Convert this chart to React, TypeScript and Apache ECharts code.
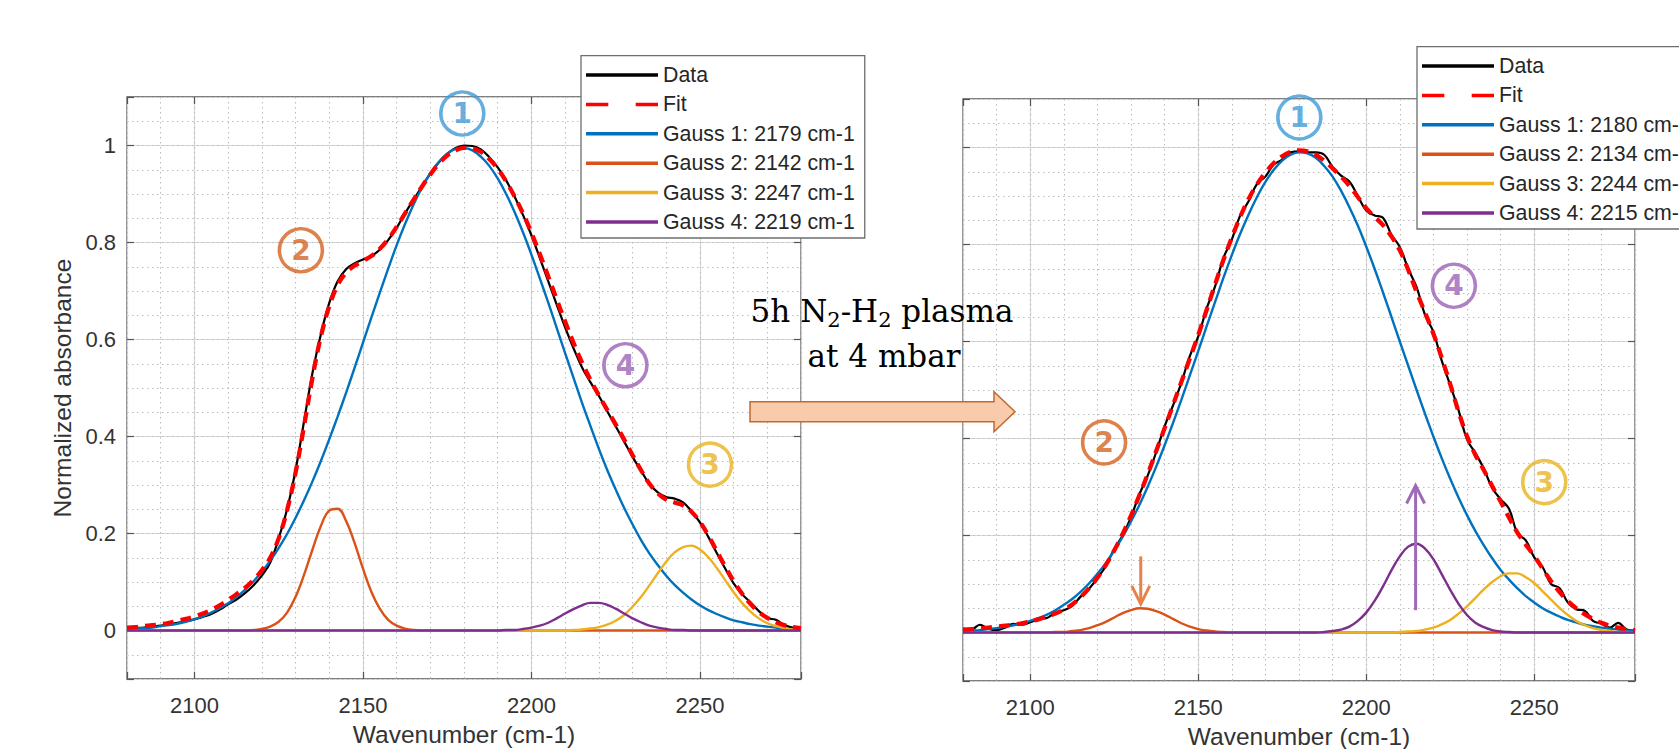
import React, { useEffect, useRef } from 'react';
import * as echarts from 'echarts';

// Wavenumber grid (cm-1)
const wn = [2080,2082.5,2085,2087.5,2090,2092.5,2095,2097.5,2100,2102.5,2105,2107.5,2110,2112.5,2115,2117.5,2120,2122.5,2125,2127.5,2130,2132.5,2135,2137.5,2140,2142.5,2145,2147.5,2150,2152.5,2155,2157.5,2160,2162.5,2165,2167.5,2170,2172.5,2175,2177.5,2180,2182.5,2185,2187.5,2190,2192.5,2195,2197.5,2200,2202.5,2205,2207.5,2210,2212.5,2215,2217.5,2220,2222.5,2225,2227.5,2230,2232.5,2235,2237.5,2240,2242.5,2245,2247.5,2250,2252.5,2255,2257.5,2260,2262.5,2265,2267.5,2270,2272.5,2275,2277.5,2280];

// ---- Left panel (before plasma) ----
const dataL = [0.004,0.005,0.006,0.008,0.010,0.013,0.016,0.019,0.023,0.028,
  0.034,0.043,0.054,0.064,0.077,0.093,0.113,0.140,0.19,0.25,
  0.33,0.43,0.53,0.61,0.675,0.72,0.745,0.757,0.765,0.772,
  0.785,0.805,0.83,0.86,0.888,0.915,0.942,0.965,0.983,0.995,
  1.0,0.999,0.992,0.976,0.955,0.928,0.895,0.857,0.815,0.768,
  0.72,0.672,0.625,0.582,0.543,0.512,0.484,0.452,0.421,0.39,
  0.358,0.33,0.302,0.285,0.275,0.272,0.264,0.246,0.223,0.193,
  0.16,0.128,0.097,0.075,0.058,0.04,0.026,0.022,0.012,0.006,
  0.004];
const fitL = [0.006,0.007,0.009,0.011,0.013,0.016,0.020,0.024,0.029,0.035,
  0.042,0.052,0.063,0.075,0.088,0.104,0.124,0.150,0.19,0.248,
  0.325,0.42,0.52,0.605,0.668,0.712,0.738,0.752,0.762,0.772,
  0.787,0.807,0.832,0.86,0.888,0.915,0.94,0.962,0.979,0.99,
  0.995,0.994,0.987,0.972,0.952,0.926,0.895,0.86,0.82,0.776,
  0.73,0.683,0.637,0.593,0.553,0.517,0.485,0.455,0.425,0.394,
  0.362,0.331,0.303,0.283,0.27,0.264,0.258,0.245,0.224,0.196,
  0.164,0.132,0.102,0.076,0.055,0.038,0.026,0.017,0.011,0.007,
  0.005];
const g1L = [0.003,0.004,0.005,0.006,0.009,0.011,0.014,0.018,0.023,0.029,
  0.037,0.046,0.056,0.069,0.084,0.101,0.121,0.144,0.170,0.199,
  0.232,0.268,0.307,0.349,0.394,0.441,0.490,0.541,0.593,0.645,
  0.696,0.746,0.794,0.838,0.878,0.913,0.943,0.966,0.983,0.993,
  0.995,0.990,0.977,0.958,0.932,0.900,0.863,0.821,0.775,0.726,
  0.676,0.624,0.572,0.521,0.470,0.422,0.375,0.331,0.291,0.253,
  0.219,0.187,0.159,0.135,0.113,0.094,0.078,0.064,0.052,0.042,
  0.034,0.027,0.021,0.017,0.013,0.010,0.008,0.006,0.004,0.003,
  0.002];
const g2L = [0,0,0,0,0,0,0,0,0,0,
  0,0,0,0,0,0.001,0.003,0.008,0.018,0.037,
  0.069,0.114,0.166,0.215,0.247,0.251,0.226,0.181,0.128,0.080,
  0.045,0.022,0.010,0.004,0.001,0,0,0,0,0,
  0,0,0,0,0,0,0,0,0,0,
  0,0,0,0,0,0,0,0,0,0,
  0,0,0,0,0,0,0,0,0,0,
  0,0,0,0,0,0,0,0,0,0,
  0];
const g3L = [0,0,0,0,0,0,0,0,0,0,
  0,0,0,0,0,0,0,0,0,0,
  0,0,0,0,0,0,0,0,0,0,
  0,0,0,0,0,0,0,0,0,0,
  0,0,0,0,0,0,0,0,0,0,
  0,0,0,0.001,0.002,0.004,0.007,0.012,0.020,0.032,
  0.049,0.069,0.093,0.118,0.142,0.161,0.172,0.175,0.167,0.151,
  0.129,0.104,0.079,0.057,0.039,0.025,0.015,0.009,0.005,0.002,
  0.001];
const g4L = [0,0,0,0,0,0,0,0,0,0,
  0,0,0,0,0,0,0,0,0,0,
  0,0,0,0,0,0,0,0,0,0,
  0,0,0,0,0,0,0,0,0,0,
  0,0,0,0,0,0.001,0.001,0.003,0.006,0.010,
  0.016,0.025,0.035,0.044,0.052,0.057,0.057,0.053,0.045,0.035,
  0.025,0.017,0.010,0.006,0.003,0.001,0.001,0,0,0,
  0,0,0,0,0,0,0,0,0,0,
  0];

// ---- Right panel (after 5h N2-H2 plasma) ----
const dataR = [0.008,0.006,0.016,0.008,0.005,0.01,0.018,0.016,0.021,0.028,
  0.03,0.041,0.046,0.055,0.074,0.09,0.112,0.137,0.172,0.2,
  0.238,0.285,0.324,0.372,0.425,0.468,0.515,0.57,0.61,0.668,
  0.713,0.772,0.81,0.86,0.889,0.925,0.94,0.965,0.975,0.99,
  0.992,0.99,0.99,0.985,0.96,0.942,0.93,0.9,0.87,0.86,
  0.855,0.82,0.795,0.75,0.712,0.655,0.62,0.56,0.51,0.458,
  0.398,0.37,0.338,0.298,0.275,0.255,0.205,0.19,0.155,0.135,
  0.1,0.092,0.062,0.048,0.045,0.024,0.018,0.01,0.02,0.006,
  0.004];
const fitR = [0.006,0.007,0.009,0.010,0.012,0.014,0.016,0.019,0.023,0.027,
  0.033,0.039,0.047,0.058,0.073,0.091,0.113,0.139,0.169,0.203,
  0.241,0.283,0.327,0.374,0.421,0.469,0.517,0.565,0.613,0.665,
  0.717,0.768,0.814,0.857,0.894,0.924,0.948,0.968,0.982,0.991,
  0.994,0.992,0.985,0.973,0.957,0.94,0.921,0.898,0.875,0.857,
  0.84,0.817,0.788,0.748,0.702,0.66,0.616,0.566,0.512,0.455,
  0.405,0.366,0.335,0.302,0.27,0.237,0.206,0.181,0.158,0.132,
  0.106,0.084,0.065,0.05,0.038,0.028,0.02,0.014,0.01,0.007,
  0.005];
const g1R = [0.003,0.004,0.005,0.007,0.009,0.012,0.015,0.019,0.024,0.030,
  0.037,0.046,0.057,0.069,0.084,0.101,0.121,0.143,0.169,0.197,
  0.229,0.263,0.301,0.342,0.386,0.432,0.480,0.530,0.580,0.631,
  0.681,0.731,0.778,0.822,0.862,0.898,0.929,0.954,0.973,0.985,
  0.990,0.988,0.979,0.962,0.940,0.911,0.877,0.839,0.796,0.750,
  0.701,0.651,0.600,0.550,0.500,0.451,0.404,0.359,0.317,0.278,
  0.242,0.209,0.180,0.153,0.129,0.109,0.091,0.075,0.062,0.050,
  0.041,0.033,0.026,0.021,0.016,0.013,0.010,0.008,0.006,0.004,
  0.003];
const g2R = [0,0,0,0,0,0,0,0,0,0,
  0,0.001,0.001,0.003,0.005,0.009,0.015,0.022,0.031,0.040,
  0.046,0.050,0.049,0.044,0.037,0.028,0.019,0.012,0.007,0.004,
  0.002,0.001,0,0,0,0,0,0,0,0,
  0,0,0,0,0,0,0,0,0,0,
  0,0,0,0,0,0,0,0,0,0,
  0,0,0,0,0,0,0,0,0,0,
  0,0,0,0,0,0,0,0,0,0,
  0];
const g3R = [0,0,0,0,0,0,0,0,0,0,
  0,0,0,0,0,0,0,0,0,0,
  0,0,0,0,0,0,0,0,0,0,
  0,0,0,0,0,0,0,0,0,0,
  0,0,0,0,0,0,0,0,0,0,
  0,0,0.001,0.002,0.003,0.006,0.010,0.017,0.026,0.039,
  0.054,0.071,0.089,0.104,0.116,0.122,0.122,0.114,0.102,0.085,
  0.068,0.051,0.036,0.024,0.015,0.009,0.005,0.003,0.001,0.001,
  0];
const g4R = [0,0,0,0,0,0,0,0,0,0,
  0,0,0,0,0,0,0,0,0,0,
  0,0,0,0,0,0,0,0,0,0,
  0,0,0,0,0,0,0,0,0,0,
  0,0,0,0.001,0.003,0.006,0.012,0.024,0.041,0.065,
  0.095,0.128,0.157,0.177,0.183,0.173,0.151,0.120,0.088,0.059,
  0.036,0.020,0.011,0.005,0.002,0.001,0,0,0,0,
  0,0,0,0,0,0,0,0,0,0,
  0];

const namesL = ['Data', 'Fit', 'Gauss 1: 2179 cm-1', 'Gauss 2: 2142 cm-1', 'Gauss 3: 2247 cm-1', 'Gauss 4: 2219 cm-1'];
const namesR = ['Data', 'Fit', 'Gauss 1: 2180 cm-1', 'Gauss 2: 2134 cm-1', 'Gauss 3: 2244 cm-1', 'Gauss 4: 2215 cm-1'];

// Circled peak labels (data coordinates)
const markLabels = ['1', '2', '4', '3'];
const markXL = [2179.5, 2131.6, 2227.9, 2253];
const markYL = [1.066, 0.784, 0.547, 0.342];
const markXR = [2180.1, 2122, 2226.1, 2253];
const markYR = [1.062, 0.392, 0.715, 0.31];

// Arrows on right panel: [wavenumber, tail, head]
const arrowRows = [[2132.9, 0.157, 0.059], [2214.7, 0.046, 0.303]];

const C_DATA = '#000000';
const C_FIT = '#FF0000';
const C_G1 = '#0072BD';
const C_G2 = '#D95319';
const C_G3 = '#EDB120';
const C_G4 = '#7E2F8E';
const markColors = ['#3F9AD8', '#D4631F', '#9B62B5', '#E8B422'];
const arrowColors = ['#E8804A', '#9E6AB8'];

const FONT = "'Liberation Sans', Arial, Helvetica, sans-serif";
const SERIF = '"DejaVu Serif", serif';
const AX = '#555555';
const TXT = '#333333';
const GRIDC = '#d8d8d8';
const MINORC = '#bdbdbd';

const pairs = (ys: number[]) => wn.map((x, i) => [x, ys[i]]);

const xLabelFmt = (v: number) => (Math.abs(v % 50) < 1e-6 ? String(v) : '');
const yLabelFmt = (v: number) => {
  const k = v * 5;
  if (Math.abs(k - Math.round(k)) > 1e-6) return '';
  return String(Math.round(v * 10) / 10);
};

function buildX(g: number) {
  return [
    {
      gridIndex: g, type: 'value', min: 2080, max: 2280, splitNumber: 4, position: 'bottom',
      axisLine: { show: false, onZero: false },
      axisTick: { show: true, inside: true, length: 7, lineStyle: { color: AX, width: 1.2 } },
      axisLabel: { show: true, formatter: xLabelFmt, fontSize: 22, color: TXT, margin: 15, fontFamily: FONT },
      splitLine: { show: true, lineStyle: { color: GRIDC, width: 1.2 } },
      name: 'Wavenumber (cm-1)', nameLocation: 'middle', nameGap: 43,
      nameTextStyle: { fontSize: 24.5, color: TXT, fontFamily: FONT },
    },
    {
      gridIndex: g, type: 'value', min: 2080, max: 2280, interval: 10, position: 'bottom',
      axisLine: { show: false, onZero: false }, axisTick: { show: false }, axisLabel: { show: false },
      splitLine: { show: true, lineStyle: { color: MINORC, width: 1.1, type: [1.5, 3.5] } },
    },
    {
      gridIndex: g, type: 'value', min: 2080, max: 2280, splitNumber: 4, position: 'top',
      axisLine: { show: false, onZero: false },
      axisTick: { show: true, inside: true, length: 7, lineStyle: { color: AX, width: 1.2 } },
      axisLabel: { show: false }, splitLine: { show: false },
    },
  ];
}

function buildY(g: number) {
  return [
    {
      gridIndex: g, type: 'value', min: -0.1, max: 1.1, splitNumber: 6, position: 'left',
      axisLine: { show: false, onZero: false },
      axisTick: { show: true, inside: true, length: 7, lineStyle: { color: AX, width: 1.2 } },
      axisLabel: { show: g === 0, formatter: yLabelFmt, fontSize: 22, color: TXT, margin: 11, fontFamily: FONT },
      splitLine: { show: true, lineStyle: { color: GRIDC, width: 1.2 } },
      name: g === 0 ? 'Normalized absorbance' : '', nameLocation: 'middle', nameGap: 52,
      nameTextStyle: { fontSize: 24.5, color: TXT, fontFamily: FONT },
    },
    {
      gridIndex: g, type: 'value', min: -0.1, max: 1.1, interval: 0.05, position: 'left',
      axisLine: { show: false, onZero: false }, axisTick: { show: false }, axisLabel: { show: false },
      splitLine: { show: true, lineStyle: { color: MINORC, width: 1.1, type: [1.5, 3.5] } },
    },
    {
      gridIndex: g, type: 'value', min: -0.1, max: 1.1, splitNumber: 6, position: 'right',
      axisLine: { show: false, onZero: false },
      axisTick: { show: true, inside: true, length: 7, lineStyle: { color: AX, width: 1.2 } },
      axisLabel: { show: false }, splitLine: { show: false },
    },
  ];
}

function line(name: string, ys: number[], g: number, color: string, width: number, dashed = false) {
  return {
    type: 'line', name, data: pairs(ys), xAxisIndex: g * 3, yAxisIndex: g * 3,
    symbol: 'none', showSymbol: false, smooth: 0.4, color, silent: true,
    lineStyle: { color, width, type: dashed ? [11, 7] : 'solid', cap: 'butt' },
    z: dashed ? 3 : 2,
  };
}

function marks(g: number, xs: number[], ys: number[]) {
  return {
    type: 'scatter', xAxisIndex: g * 3, yAxisIndex: g * 3, symbol: 'circle', symbolSize: 43, silent: true, z: 6,
    data: markLabels.map((lab, i) => ({
      name: lab, value: [xs[i], ys[i]],
      itemStyle: { color: 'rgba(255,255,255,0)', borderColor: markColors[i], borderWidth: 3.6 },
      label: { color: markColors[i] },
    })),
    label: { show: true, position: 'inside', formatter: '{b}', fontSize: 28, fontWeight: 'bold', fontFamily: '"DejaVu Sans", sans-serif' },
  };
}

const solidIcon = 'path://M0,0H72V3H0Z';
const dashIcon = 'path://M0,0H22V3H0ZM49,0H71V3H49Z';
const legendItems = (names: string[]) => names.map((n, i) => ({ name: n, icon: i === 1 ? dashIcon : solidIcon }));
const legendCommon = {
  orient: 'vertical', itemWidth: 72, itemHeight: 3.5, itemGap: 5.4, symbolKeepAspect: false,
  padding: [7.3, 10, 4, 5], backgroundColor: '#ffffff', borderColor: '#6e6e6e', borderWidth: 1.3,
  textStyle: { fontSize: 21.3, color: '#262626', fontFamily: FONT, lineHeight: 24 },
  itemStyle: { borderWidth: 0 }, selectedMode: false, z: 10,
};

const plasmaRich = {
  a: { fontSize: 31, fontFamily: SERIF, lineHeight: 38, fill: '#000', color: '#000' },
  s: { fontSize: 21, fontFamily: SERIF, lineHeight: 21, padding: [17, 0, 0, 0], fill: '#000', color: '#000' },
};

export default function App() {
  const ref = useRef<HTMLDivElement>(null);
  useEffect(() => {
    if (!ref.current) return;
    const chart = echarts.init(ref.current, undefined, { renderer: 'svg' });
    const option: any = {
      animation: false,
      backgroundColor: '#ffffff',
      textStyle: { fontFamily: FONT },
      grid: [
        { left: 127, top: 97, width: 674, height: 582, show: true, borderColor: AX, borderWidth: 1.3, backgroundColor: '#fff', containLabel: false, outerBoundsMode: 'none' },
        { left: 963, top: 99, width: 672, height: 582, show: true, borderColor: AX, borderWidth: 1.3, backgroundColor: '#fff', containLabel: false, outerBoundsMode: 'none' },
      ],
      xAxis: [...buildX(0), ...buildX(1)],
      yAxis: [...buildY(0), ...buildY(1)],
      legend: [
        { ...legendCommon, left: 581, top: 55.7, data: legendItems(namesL) },
        { ...legendCommon, left: 1417, top: 46.7, data: legendItems(namesR) },
      ],
      series: [
        line(namesL[0], dataL, 0, C_DATA, 2.2),
        line(namesL[1], fitL, 0, C_FIT, 4.3, true),
        line(namesL[2], g1L, 0, C_G1, 2.4),
        line(namesL[3], g2L, 0, C_G2, 2.4),
        line(namesL[4], g3L, 0, C_G3, 2.4),
        line(namesL[5], g4L, 0, C_G4, 2.4),
        line(namesR[0], dataR, 1, C_DATA, 2.2),
        line(namesR[1], fitR, 1, C_FIT, 4.3, true),
        line(namesR[2], g1R, 1, C_G1, 2.4),
        line(namesR[3], g2R, 1, C_G2, 2.4),
        line(namesR[4], g3R, 1, C_G3, 2.4),
        line(namesR[5], g4R, 1, C_G4, 2.4),
        marks(0, markXL, markYL),
        marks(1, markXR, markYR),
        {
          type: 'custom', name: 'arrows', xAxisIndex: 3, yAxisIndex: 3, silent: true, z: 6,
          data: arrowRows, encode: { x: 0, y: [1, 2] },
          renderItem: (params: any, api: any) => {
            const x = api.value(0);
            const p0 = api.coord([x, api.value(1)]);
            const p1 = api.coord([x, api.value(2)]);
            const dir = p1[1] > p0[1] ? 1 : -1;
            const color = arrowColors[params.dataIndex];
            const hw = 9, hl = 18;
            return {
              type: 'group',
              children: [
                { type: 'line', shape: { x1: p0[0], y1: p0[1], x2: p1[0], y2: p1[1] }, style: { stroke: color, lineWidth: 3 } },
                { type: 'polyline', shape: { points: [[p1[0] - hw, p1[1] - dir * hl], [p1[0], p1[1]], [p1[0] + hw, p1[1] - dir * hl]] }, style: { stroke: color, lineWidth: 3, fill: 'none' } },
              ],
            };
          },
        },
      ],
      graphic: [
        {
          type: 'polygon', z: 20,
          shape: { points: [[750, 401.7], [994, 401.7], [994, 391.7], [1015, 411.7], [994, 431.7], [994, 421.7], [750, 421.7]] },
          style: { fill: '#F8CBAD', stroke: '#C5682B', lineWidth: 1.5 },
        },
        {
          type: 'text', x: 882, y: 311, z: 20,
          style: { text: '{a|5h N}{s|2}{a|-H}{s|2}{a| plasma}', rich: plasmaRich, fill: '#000', align: 'center', verticalAlign: 'middle', textAlign: 'center', textVerticalAlign: 'middle' },
        },
        {
          type: 'text', x: 884, y: 356, z: 20,
          style: { text: 'at 4 mbar', fontSize: 31, fontFamily: SERIF, fill: '#000', align: 'center', verticalAlign: 'middle', textAlign: 'center', textVerticalAlign: 'middle' },
        },
      ],
    };
    chart.setOption(option);
    return () => chart.dispose();
  }, []);
  return <div ref={ref} style={{ position: 'absolute', left: 0, top: 0, width: 1679, height: 749, background: '#fff' }} />;
}
